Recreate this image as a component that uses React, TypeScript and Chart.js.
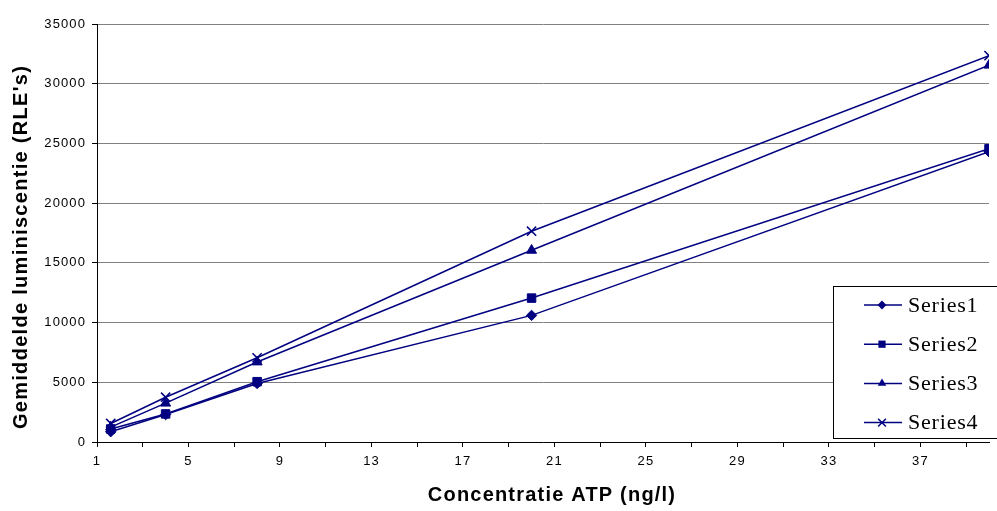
import React, { useEffect, useRef } from 'react';
import { Chart, registerables } from 'chart.js';

Chart.register(...registerables);

// ---- data ----
const xValues = [1.6, 4, 8, 20, 40];
const series1 = [860, 2300, 4900, 10600, 24300];
const series2 = [1090, 2350, 5050, 12050, 24550];
const series3 = [1250, 3250, 6700, 16050, 31550];
const series4 = [1550, 3750, 7050, 17650, 32350];
const seriesNames = ['Series1', 'Series2', 'Series3', 'Series4'];
const seriesValues = [series1, series2, series3, series4];
const pointStyles = ['rectRot', 'rect', 'triangle', 'crossRot'];
const pointRadii = [5.2, 6, 5.8, 6.5];
const xTickValues = [1, 3, 5, 7, 9, 11, 13, 15, 17, 19, 21, 23, 25, 27, 29, 31, 33, 35, 37, 39];
const xLabelValues = [1, 5, 9, 13, 17, 21, 25, 29, 33, 37];
const xTitle = 'Concentratie ATP (ng/l)';
const yTitle = "Gemiddelde luminiscentie (RLE's)";

const NAVY = '#000080';
const SANS = "'Liberation Sans', Arial, sans-serif";
const SERIF = "'Liberation Serif', 'Times New Roman', serif";

function drawMarker(ctx: CanvasRenderingContext2D, style: string, x: number, y: number, r: number) {
  ctx.beginPath();
  if (style === 'rectRot') {
    ctx.moveTo(x - r, y);
    ctx.lineTo(x, y - r);
    ctx.lineTo(x + r, y);
    ctx.lineTo(x, y + r);
    ctx.closePath();
    ctx.fill();
  } else if (style === 'rect') {
    const s = r * Math.SQRT1_2;
    ctx.rect(x - s, y - s, 2 * s, 2 * s);
    ctx.fill();
  } else if (style === 'triangle') {
    ctx.moveTo(x, y - r);
    ctx.lineTo(x + 0.866 * r, y + r / 2);
    ctx.lineTo(x - 0.866 * r, y + r / 2);
    ctx.closePath();
    ctx.fill();
  } else {
    const s = r * Math.SQRT1_2;
    ctx.moveTo(x - s, y - s);
    ctx.lineTo(x + s, y + s);
    ctx.moveTo(x + s, y - s);
    ctx.lineTo(x - s, y + s);
    ctx.stroke();
  }
}

function wrap(scale: any, method: string, spacing: string, dx: number, dy: number) {
  const key = '__wrapped_' + method;
  if (scale[key]) return;
  const orig = scale[method];
  scale[method] = function (...args: any[]) {
    const c = this.ctx;
    c.save();
    (c as any).letterSpacing = spacing;
    if (dx || dy) c.translate(dx, dy);
    orig.apply(this, args);
    c.restore();
  };
  scale[key] = true;
}

const spacingPlugin = {
  id: 'spacingPlugin',
  afterUpdate(chart: any) {
    const sx = chart.scales.x;
    const sy = chart.scales.y;
    wrap(sx, 'drawTitle', '1.2px', 9, 0);
    wrap(sy, 'drawTitle', '1.3px', 0, 14);
    wrap(sx, 'drawLabels', '1.1px', 0, 0);
    wrap(sy, 'drawLabels', '1.1px', 0, 0);
  },
};

const legendPlugin = {
  id: 'boxLegend',
  afterDraw(chart: any) {
    const ctx: CanvasRenderingContext2D = chart.ctx;
    ctx.save();
    ctx.fillStyle = '#ffffff';
    ctx.fillRect(833, 286, 170, 153);
    ctx.strokeStyle = '#000000';
    ctx.lineWidth = 1;
    ctx.strokeRect(833.5, 286.5, 170, 152);
    chart.data.datasets.forEach((ds: any, i: number) => {
      const y = 305 + i * 39.2;
      ctx.strokeStyle = NAVY;
      ctx.fillStyle = NAVY;
      ctx.lineWidth = 1.5;
      ctx.beginPath();
      ctx.moveTo(864, y);
      ctx.lineTo(902, y);
      ctx.stroke();
      drawMarker(ctx, pointStyles[i], 882, y, pointRadii[i] * 0.85);
      ctx.fillStyle = '#000000';
      ctx.font = `22px ${SERIF}`;
      (ctx as any).letterSpacing = '0.8px';
      ctx.textBaseline = 'middle';
      ctx.textAlign = 'left';
      ctx.fillText(ds.label, 908, y + 1);
      (ctx as any).letterSpacing = '0px';
    });
    ctx.restore();
  },
};

export default function App() {
  const canvasRef = useRef<HTMLCanvasElement | null>(null);

  useEffect(() => {
    if (!canvasRef.current) return;
    const datasets = seriesNames.map((name, i) => ({
      label: name,
      data: xValues.map((x, j) => ({ x, y: seriesValues[i][j] })),
      borderColor: NAVY,
      backgroundColor: NAVY,
      borderWidth: 1.5,
      pointStyle: pointStyles[i] as any,
      pointRadius: pointRadii[i],
      pointHoverRadius: pointRadii[i],
      pointBackgroundColor: NAVY,
      pointBorderColor: NAVY,
      pointBorderWidth: pointStyles[i] === 'crossRot' ? 1.5 : 1,
      tension: 0,
      fill: false,
      showLine: true,
    }));

    const chart = new Chart(canvasRef.current, {
      type: 'line',
      data: { datasets },
      plugins: [spacingPlugin, legendPlugin],
      options: {
        animation: false,
        responsive: false,
        maintainAspectRatio: false,
        layout: { padding: { top: 24, left: 0, right: 0, bottom: 0 } },
        plugins: {
          legend: { display: false },
          tooltip: { enabled: false },
          title: { display: false },
        },
        scales: {
          x: {
            type: 'linear',
            min: 1,
            max: 40,
            afterBuildTicks: (axis: any) => {
              axis.ticks = xTickValues.map((v) => ({ value: v }));
            },
            afterFit: (scale: any) => {
              scale.height = 69;
            },
            ticks: {
              autoSkip: false,
              maxRotation: 0,
              minRotation: 0,
              padding: 7,
              color: '#000000',
              font: { family: SANS, size: 13 },
              callback: (v: any) => (xLabelValues.includes(Number(v)) ? String(v) : ''),
            },
            grid: {
              drawOnChartArea: false,
              drawTicks: true,
              tickLength: 5,
              tickColor: '#000000',
            },
            border: { display: true, color: '#000000', width: 1 },
            title: {
              display: true,
              text: xTitle,
              color: '#000000',
              font: { family: SANS, size: 20, weight: 'bold' },
              padding: { top: 0, bottom: 4 },
            },
          },
          y: {
            type: 'linear',
            min: 0,
            max: 35000,
            afterFit: (scale: any) => {
              scale.width = 97;
            },
            ticks: {
              stepSize: 5000,
              padding: 6,
              color: '#000000',
              font: { family: SANS, size: 13 },
              callback: (v: any) => String(v),
            },
            grid: {
              color: '#808080',
              lineWidth: 1,
              drawTicks: true,
              tickLength: 5,
              tickColor: '#000000',
            },
            border: { display: true, color: '#000000', width: 1 },
            title: {
              display: true,
              text: yTitle,
              color: '#000000',
              font: { family: SANS, size: 20, weight: 'bold' },
              padding: { top: 9, bottom: 0 },
            },
          },
        },
      },
    });

    return () => {
      chart.destroy();
    };
  }, []);

  return (
    <div style={{ position: 'absolute', left: 0, top: 0, width: 997, height: 511, background: '#ffffff' }}>
      <canvas ref={canvasRef} width={997} height={511} style={{ display: 'block', width: 997, height: 511 }} />
    </div>
  );
}
